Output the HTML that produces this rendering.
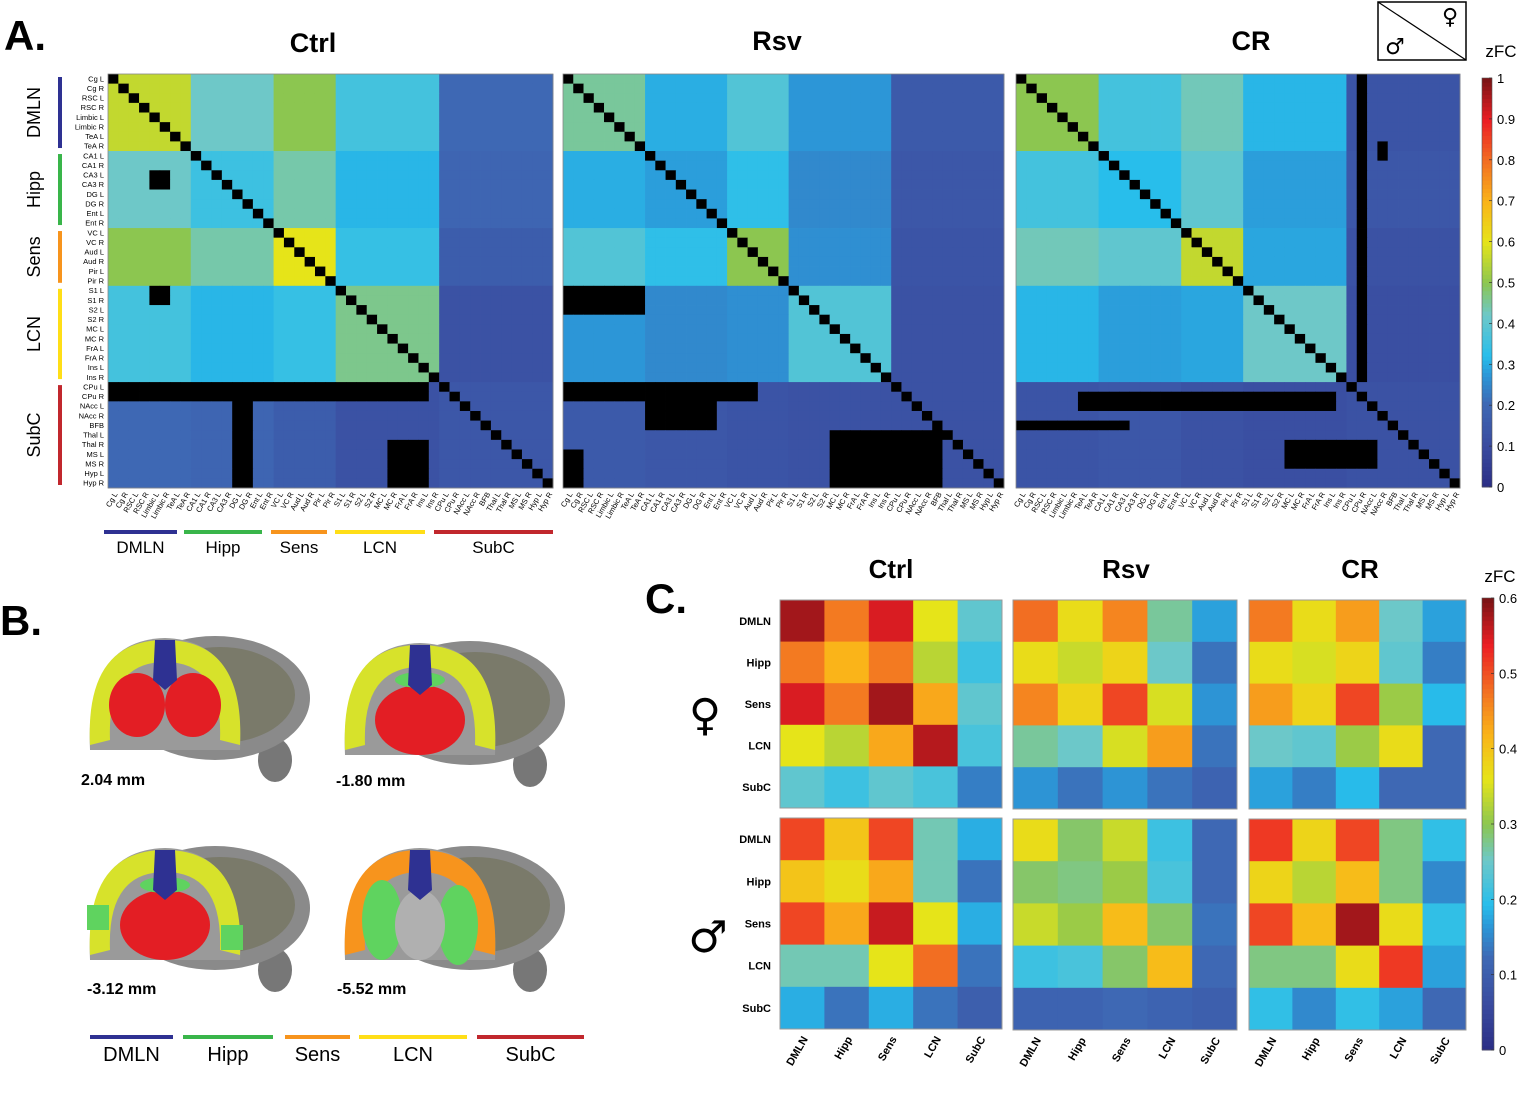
<!DOCTYPE html>
<html><head><meta charset="utf-8">
<style>
html,body{margin:0;padding:0;background:#fff;}
body{width:1535px;height:1097px;overflow:hidden;font-family:"Liberation Sans",Arial,sans-serif;}
svg{display:block}
</style></head>
<body>
<svg id="fig" width="1535" height="1097" viewBox="0 0 1535 1097" xmlns="http://www.w3.org/2000/svg" font-family="Liberation Sans, Arial, sans-serif">
  <text x="4" y="50" font-size="42" font-weight="bold">A.</text>
  <text x="313" y="52" font-size="27" font-weight="bold" text-anchor="middle">Ctrl</text>
  <text x="777" y="50" font-size="27" font-weight="bold" text-anchor="middle">Rsv</text>
  <text x="1251" y="50" font-size="27" font-weight="bold" text-anchor="middle">CR</text>
  <g>
    <rect x="1378" y="2" width="88" height="58" fill="#fff" stroke="#000" stroke-width="1.5"/>
    <line x1="1378" y1="2" x2="1466" y2="60" stroke="#000" stroke-width="1.2"/>
    <text x="1450" y="24" font-size="22" text-anchor="middle" font-family="DejaVu Sans, sans-serif">♀</text>
    <text x="1395" y="54" font-size="22" text-anchor="middle" font-family="DejaVu Sans, sans-serif">♂</text>
  </g>
  <text x="1501" y="57" font-size="17" text-anchor="middle">zFC</text>
  <text x="0" y="635" font-size="42" font-weight="bold">B.</text>
  <text x="645" y="613" font-size="42" font-weight="bold">C.</text>
  <text x="891" y="578" font-size="26" font-weight="bold" text-anchor="middle">Ctrl</text>
  <text x="1126" y="578" font-size="26" font-weight="bold" text-anchor="middle">Rsv</text>
  <text x="1360" y="578" font-size="26" font-weight="bold" text-anchor="middle">CR</text>
  <text x="1500" y="582" font-size="17" text-anchor="middle">zFC</text>
  <text x="705" y="730" font-size="44" text-anchor="middle" font-family="DejaVu Sans, sans-serif">♀</text>
  <text x="708" y="952" font-size="44" text-anchor="middle" font-family="DejaVu Sans, sans-serif">♂</text>
  <g id="brains"></g>
  <g id="gA"></g>
  <g id="gC"></g>
</svg>
<script>
// ---------- data ----------
const regions = ["Cg L","Cg R","RSC L","RSC R","Limbic L","Limbic R","TeA L","TeA R","CA1 L","CA1 R","CA3 L","CA3 R","DG L","DG R","Ent L","Ent R","VC L","VC R","Aud L","Aud R","Pir L","Pir R","S1 L","S1 R","S2 L","S2 R","MC L","MC R","FrA L","FrA R","Ins L","Ins R","CPu L","CPu R","NAcc L","NAcc R","BFB","Thal L","Thal R","MS L","MS R","Hyp L","Hyp R"];
const networks = ["DMLN","Hipp","Sens","LCN","SubC"];
const networkSizes = [8,8,6,10,11];
const networkColors = ["#2e3192","#39b54a","#f7941d","#ffde17","#c1272d"];
// panel A block means (network x network), zFC 0..1
const blockCtrl = [[0.56,0.42,0.5,0.36,0.2],[0.42,0.35,0.44,0.31,0.19],[0.5,0.44,0.6,0.34,0.16],[0.36,0.31,0.34,0.46,0.12],[0.2,0.19,0.16,0.12,0.14]];
const blockRsv  = [[0.45,0.3,0.38,0.27,0.15],[0.3,0.28,0.33,0.25,0.14],[0.38,0.33,0.5,0.26,0.13],[0.27,0.25,0.26,0.38,0.12],[0.15,0.14,0.13,0.12,0.12]];
const blockCR   = [[0.5,0.36,0.43,0.31,0.13],[0.36,0.32,0.4,0.28,0.14],[0.43,0.4,0.56,0.29,0.12],[0.31,0.28,0.29,0.42,0.11],[0.13,0.14,0.12,0.11,0.12]];
// negative (black) rectangles: [rowStart,rowEnd,colStart,colEnd]
const blackCtrl = [[32,33,0,30],[22,23,4,5],[38,42,27,30],[34,42,12,13],[10,11,4,5]];
const blackRsv  = [[32,33,0,18],[22,24,0,7],[34,36,8,14],[37,42,26,36],[39,42,0,1]];
const blackCR   = [[0,31,33,33],[33,34,6,30],[36,36,0,10],[38,40,26,34],[7,8,35,35]];
// panel C matrices zFC 0..0.6
const cCtrlF = [[0.58,0.47,0.55,0.36,0.24],[0.47,0.42,0.47,0.33,0.21],[0.55,0.47,0.58,0.43,0.24],[0.36,0.33,0.43,0.57,0.22],[0.24,0.21,0.24,0.22,0.14]];
const cCtrlM = [[0.51,0.40,0.51,0.26,0.18],[0.40,0.37,0.43,0.26,0.13],[0.51,0.43,0.56,0.36,0.18],[0.26,0.26,0.36,0.48,0.13],[0.18,0.13,0.18,0.13,0.10]];
const cRsvF  = [[0.48,0.37,0.46,0.27,0.17],[0.37,0.34,0.38,0.25,0.13],[0.46,0.38,0.51,0.35,0.16],[0.27,0.25,0.35,0.44,0.13],[0.16,0.13,0.16,0.13,0.11]];
const cRsvM  = [[0.37,0.29,0.34,0.21,0.12],[0.29,0.28,0.31,0.22,0.12],[0.34,0.31,0.41,0.29,0.13],[0.21,0.22,0.29,0.41,0.12],[0.11,0.11,0.12,0.11,0.10]];
const cCRF   = [[0.47,0.37,0.44,0.25,0.17],[0.37,0.35,0.38,0.24,0.14],[0.44,0.38,0.51,0.31,0.19],[0.25,0.24,0.31,0.37,0.12],[0.17,0.14,0.19,0.12,0.12]];
const cCRM   = [[0.52,0.38,0.51,0.28,0.20],[0.38,0.33,0.41,0.28,0.15],[0.51,0.41,0.58,0.37,0.20],[0.28,0.28,0.37,0.52,0.17],[0.20,0.15,0.20,0.17,0.12]];
const ticksA = ["0","0.1","0.2","0.3","0.4","0.5","0.6","0.7","0.8","0.9","1"];
const ticksC = ["0","0.1","0.2","0.3","0.4","0.5","0.6"];

// ---------- helpers ----------
const NS="http://www.w3.org/2000/svg";
function mk(tag,attrs,parent){const e=document.createElementNS(NS,tag);for(const k in attrs)e.setAttribute(k,attrs[k]);if(parent)parent.appendChild(e);return e;}
const stops=[[0,[43,47,134]],[0.1,[58,76,160]],[0.2,[62,104,180]],[0.27,[44,150,215]],[0.32,[40,190,235]],[0.42,[110,200,200]],[0.5,[140,198,80]],[0.6,[230,228,25]],[0.7,[250,180,25]],[0.8,[242,110,34]],[0.9,[236,30,36]],[1,[125,20,22]]];
function cmap(t){if(t<0)return "#000";t=Math.max(0,Math.min(1,t));for(let i=1;i<stops.length;i++){if(t<=stops[i][0]){const a=stops[i-1],b=stops[i];const f=(t-a[0])/(b[0]-a[0]);const c=a[1].map((v,j)=>Math.round(v+(b[1][j]-v)*f));return `rgb(${c[0]},${c[1]},${c[2]})`;}}return "rgb(125,20,22)";}
const netOf=[];networkSizes.forEach((n,i)=>{for(let k=0;k<n;k++)netOf.push(i);});

const gA=document.getElementById('gA');
function drawBig(x0,y0,w,h,block,blacks,name){
  const g=mk('g',{},gA);
  
  
  const N=regions.length,cw=w/N,ch=h/N;
  const xs=i=>x0+i*cw, ys=i=>y0+i*ch;
  for(let r=0;r<N;r++)for(let c=0;c<N;c++){
    let v=block[netOf[r]][netOf[c]];
    if(r===c)v=-1;
    for(const b of blacks){if(r>=b[0]&&r<=b[1]&&c>=b[2]&&c<=b[3])v=-1;}
    const cell=mk('rect',{x:xs(c).toFixed(2),y:ys(r).toFixed(2),width:(cw+0.4).toFixed(2),height:(ch+0.4).toFixed(2),fill:cmap(v)},g);
    
    
  }
  mk('rect',{x:x0,y:y0,width:w,height:h,fill:'none',stroke:'#888','stroke-width':0.8},g);
  regions.forEach((lab,i)=>{
    const cx=xs(i)+cw/2, ty=y0+h+5;
    const t=mk('text',{x:cx+3,y:ty,'font-size':7.5,'text-anchor':'end',transform:`rotate(-60 ${cx+3} ${ty})`,'dominant-baseline':'middle'},g);
    t.textContent=lab;
    
    
  });
  return {cw,ch};
}
const A=drawBig(108,74,445,414,blockCtrl,blackCtrl,'ctrl-matrix-a');
drawBig(563,74,441,414,blockRsv,blackRsv,'rsv-matrix-a');
drawBig(1016,74,444,414,blockCR,blackCR,'cr-matrix-a');
regions.forEach((lab,i)=>{
  const t=mk('text',{x:104,y:74+i*A.ch+A.ch/2+2.5,'font-size':7.5,'text-anchor':'end'},gA);
  t.textContent=lab;
  
  
});
let acc=0;
networks.forEach((n,i)=>{
  const ya=74+acc*A.ch+3, yb=74+(acc+networkSizes[i])*A.ch-3; acc+=networkSizes[i];
  const b=mk('rect',{x:58,y:ya,width:4,height:yb-ya,fill:networkColors[i]},gA);
  
  
  const cy=(ya+yb)/2;
  const t=mk('text',{x:40,y:cy,'font-size':18,'text-anchor':'middle',transform:`rotate(-90 40 ${cy})`},gA);
  t.textContent=n;
  
  
});
function legendRow(items,y,fs,th,name){
  const g=mk('g',{},gA);
  
  
  items.forEach((it,i)=>{
    mk('rect',{x:it[0],y:y,width:it[1]-it[0],height:th,fill:networkColors[i]},g);
    const t=mk('text',{x:(it[0]+it[1])/2,y:y+fs+6,'font-size':fs,'text-anchor':'middle'},g);
    t.textContent=networks[i];
  });
}
legendRow([[104,177],[184,262],[271,327],[335,425],[434,553]],530,17,4,'legend-a');
legendRow([[90,173],[183,273],[285,350],[359,467],[477,584]],1035,20,4,'legend-b');

function colorbar(x,y,w,h,maxv,ticks,name){
  const g=mk('g',{},gA);
  
  
  const n=100;
  for(let i=0;i<n;i++){mk('rect',{x:x,y:(y+h-(i+1)*h/n).toFixed(2),width:w,height:(h/n+0.5).toFixed(2),fill:cmap(i/(n-1))},g);}
  mk('rect',{x:x,y:y,width:w,height:h,fill:'none',stroke:'#555','stroke-width':0.6},g);
  ticks.forEach(tk=>{const ty=y+h-parseFloat(tk)/maxv*h;
    mk('line',{x1:x+w-3,x2:x+w,y1:ty,y2:ty,stroke:'#333','stroke-width':0.7},g);
    const t=mk('text',{x:x+w+5,y:ty+5,'font-size':13},g);t.textContent=tk;
    
    });
}
colorbar(1482,78,10,409,1,ticksA,'colorbar-a');
colorbar(1482,598,12,452,0.6,ticksC,'colorbar-c');

const gC=document.getElementById('gC');
function drawSmall(x0,y0,w,h,m,name,rowLabels,colLabels){
  const g=mk('g',{},gC);
  
  
  const cw=w/5,ch=h/5;
  for(let r=0;r<5;r++)for(let c=0;c<5;c++){
    const cell=mk('rect',{x:(x0+c*cw).toFixed(2),y:(y0+r*ch).toFixed(2),width:(cw+0.4).toFixed(2),height:(ch+0.4).toFixed(2),fill:cmap(m[r][c]/0.6)},g);
    
    
  }
  mk('rect',{x:x0,y:y0,width:w,height:h,fill:'none',stroke:'#999','stroke-width':1},g);
  if(rowLabels)networks.forEach((n,i)=>{const t=mk('text',{x:x0-9,y:y0+i*ch+ch/2+4,'font-size':11,'font-weight':'bold','text-anchor':'end'},g);t.textContent=n;});
  if(colLabels)networks.forEach((n,i)=>{const cx=x0+i*cw+cw/2+6,ty=y0+h+10;const t=mk('text',{x:cx,y:ty,'font-size':11,'font-weight':'bold','text-anchor':'end',transform:`rotate(-60 ${cx} ${ty})`},g);t.textContent=n;});
}
drawSmall(780,600,222,208,cCtrlF,'ctrl-female-c',true,false);
drawSmall(780,818,222,211,cCtrlM,'ctrl-male-c',true,true);
drawSmall(1013,600,224,209,cRsvF,'rsv-female-c',false,false);
drawSmall(1013,819,224,211,cRsvM,'rsv-male-c',false,true);
drawSmall(1249,600,217,209,cCRF,'cr-female-c',false,false);
drawSmall(1249,819,217,211,cCRM,'cr-male-c',false,true);

const gb=document.getElementById('brains');
function brain(cx,cy,type,label,lx,ly){
  const g=mk('g',{},gb);
  
  
  mk('ellipse',{cx:cx+110,cy:cy+60,rx:17,ry:22,fill:'#777'},g);
  mk('ellipse',{cx:cx+50,cy:cy-2,rx:95,ry:62,fill:'#8a8a8a'},g);
  mk('ellipse',{cx:cx+55,cy:cy-5,rx:75,ry:48,fill:'#6f6f55',opacity:0.6},g);
  mk('path',{d:`M ${cx-75} ${cy+50} Q ${cx-80} ${cy-60} ${cx} ${cy-62} Q ${cx+80} ${cy-60} ${cx+75} ${cy+50} Z`,fill:'#9a9a9a'},g);
  const outer=type===3?'#f7941d':'#d7e22b';
  mk('path',{d:`M ${cx-75} ${cy+45} Q ${cx-80} ${cy-60} ${cx} ${cy-60} Q ${cx+80} ${cy-60} ${cx+75} ${cy+45} L ${cx+55} ${cy+40} Q ${cx+58} ${cy-38} ${cx} ${cy-38} Q ${cx-58} ${cy-38} ${cx-55} ${cy+40} Z`,fill:outer},g);
  if(type===0){mk('ellipse',{cx:cx-28,cy:cy+5,rx:28,ry:32,fill:'#e31e24'},g);mk('ellipse',{cx:cx+28,cy:cy+5,rx:28,ry:32,fill:'#e31e24'},g);}
  if(type===1||type===2){mk('ellipse',{cx:cx,cy:cy+15,rx:45,ry:35,fill:'#e31e24'},g);mk('ellipse',{cx:cx,cy:cy-25,rx:25,ry:8,fill:'#5fd35f'},g);}
  if(type===2){mk('rect',{x:cx-78,y:cy-5,width:22,height:25,fill:'#5fd35f'},g);mk('rect',{x:cx+56,y:cy+15,width:22,height:25,fill:'#5fd35f'},g);}
  if(type===3){mk('ellipse',{cx:cx-38,cy:cy+10,rx:20,ry:40,fill:'#5fd35f'},g);mk('ellipse',{cx:cx+38,cy:cy+15,rx:20,ry:40,fill:'#5fd35f'},g);mk('ellipse',{cx:cx,cy:cy+15,rx:25,ry:35,fill:'#b0b0b0'},g);}
  mk('path',{d:`M ${cx-10} ${cy-60} L ${cx+10} ${cy-60} L ${cx+12} ${cy-20} L ${cx} ${cy-10} L ${cx-12} ${cy-20} Z`,fill:'#2e3192'},g);
  const t=mk('text',{x:lx,y:ly,'font-size':16,'font-weight':'bold'},g);t.textContent=label;
}
brain(165,700,0,'2.04 mm',81,785);
brain(420,705,1,'-1.80 mm',336,786);
brain(165,910,2,'-3.12 mm',87,994);
brain(420,910,3,'-5.52 mm',337,994);
</script>
</body></html>
